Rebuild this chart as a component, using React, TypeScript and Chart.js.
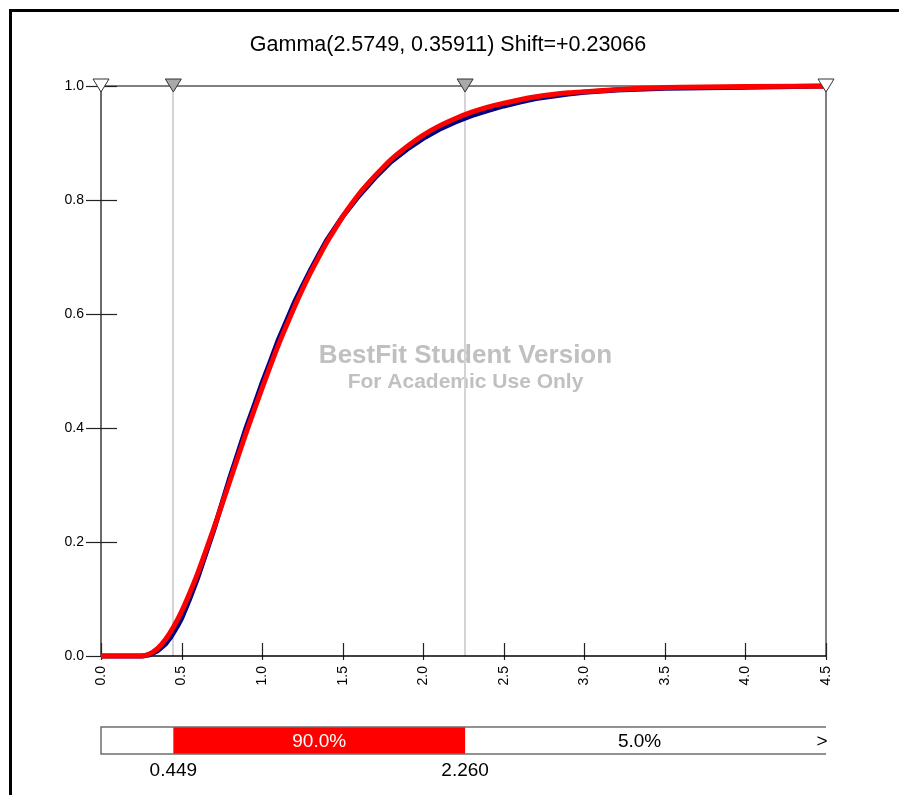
import React, { useEffect, useRef } from "react";
import { Chart, registerables } from "chart.js";

Chart.register(...registerables);

const TITLE = "Gamma(2.5749, 0.35911) Shift=+0.23066";
const WATERMARK_1 = "BestFit Student Version";
const WATERMARK_2 = "For Academic Use Only";

// fitted curve (red)
const FIT_X = [0, 0.23, 0.25, 0.3, 0.35, 0.4, 0.45, 0.5, 0.55, 0.6, 0.65, 0.7, 0.75, 0.8, 0.85, 0.9, 0.95, 1.0, 1.05, 1.1, 1.15, 1.2, 1.25, 1.3, 1.35, 1.4, 1.45, 1.5, 1.55, 1.6, 1.7, 1.8, 1.9, 2.0, 2.1, 2.2, 2.3, 2.4, 2.5, 2.6, 2.7, 2.8, 2.9, 3.0, 3.3, 3.6, 4.0, 4.5];
const FIT_Y = [0, 0, 0.0001, 0.0035, 0.013, 0.029, 0.051, 0.078, 0.11, 0.145, 0.184, 0.224, 0.265, 0.307, 0.349, 0.391, 0.431, 0.47, 0.508, 0.545, 0.579, 0.612, 0.643, 0.672, 0.699, 0.725, 0.748, 0.771, 0.791, 0.81, 0.842, 0.871, 0.894, 0.914, 0.93, 0.943, 0.954, 0.963, 0.97, 0.976, 0.981, 0.985, 0.988, 0.99, 0.995, 0.9976, 0.9991, 0.9997];

const EMP_X = [0, 0.26, 0.3, 0.33, 0.35, 0.38, 0.4, 0.43, 0.45, 0.48, 0.5, 0.55, 0.6, 0.65, 0.7, 0.75, 0.8, 0.85, 0.9, 0.95, 1.0, 1.05, 1.1, 1.15, 1.2, 1.25, 1.3, 1.35, 1.4, 1.45, 1.5, 1.55, 1.6, 1.7, 1.8, 1.9, 2.0, 2.1, 2.2, 2.3, 2.4, 2.5, 2.6, 2.7, 2.8, 2.9, 3.0, 3.2, 3.5, 4.0, 4.5];
const EMP_Y = [0, 0, 0.002, 0.006, 0.009, 0.016, 0.021, 0.032, 0.041, 0.055, 0.066, 0.1, 0.137, 0.179, 0.221, 0.267, 0.313, 0.356, 0.4, 0.439, 0.479, 0.516, 0.554, 0.587, 0.62, 0.649, 0.677, 0.703, 0.729, 0.75, 0.771, 0.789, 0.807, 0.839, 0.867, 0.889, 0.908, 0.924, 0.937, 0.948, 0.957, 0.965, 0.972, 0.978, 0.982, 0.986, 0.989, 0.993, 0.996, 0.998, 1.0];

const X_MIN = 0;
const X_MAX = 4.5;
const X_STEP = 0.5;
const Y_MIN = 0;
const Y_MAX = 1;
const Y_STEP = 0.2;

const MARKS = [0.449, 2.26];
const MARK_LABELS = ["0.449", "2.260"];
const BAND_TEXT = ["", "90.0%", "5.0%"];
const RIGHT_ARROW = ">";

const FONT = '"Liberation Sans", Arial, Helvetica, sans-serif';

const decorPlugin = {
  id: "decor",
  beforeDatasetsDraw(chart: any) {
    const { ctx, chartArea: a, scales } = chart;
    const xs = scales.x;
    const ys = scales.y;
    ctx.save();
    // outer frame
    ctx.fillStyle = "#000";
    ctx.fillRect(9, 9, 890, 3);
    ctx.fillRect(9, 9, 3, 786);

    // title
    ctx.fillStyle = "#000";
    ctx.font = `21.5px ${FONT}`;
    ctx.textAlign = "center";
    ctx.textBaseline = "middle";
    ctx.fillText(TITLE, 448, 45);

    // watermark
    const cx = (a.left + a.right) / 2 + 2;
    ctx.fillStyle = "#c0c0c0";
    ctx.font = `bold 26px ${FONT}`;
    ctx.fillText(WATERMARK_1, cx, 356);
    ctx.font = `bold 21px ${FONT}`;
    ctx.fillText(WATERMARK_2, cx, 382);

    // light vertical lines at marks
    ctx.strokeStyle = "#d4d4d4";
    ctx.lineWidth = 2;
    MARKS.forEach((m) => {
      const px = Math.round(xs.getPixelForValue(m));
      ctx.beginPath();
      ctx.moveTo(px, a.top);
      ctx.lineTo(px, a.bottom);
      ctx.stroke();
    });

    // frame lines of the plot
    ctx.strokeStyle = "#808080";
    ctx.lineWidth = 2;
    ctx.beginPath();
    ctx.moveTo(a.left, a.top);
    ctx.lineTo(a.right, a.top);
    ctx.moveTo(a.right, a.top);
    ctx.lineTo(a.right, a.bottom);
    ctx.stroke();
    ctx.strokeStyle = "#6a6a6a";
    ctx.beginPath();
    ctx.moveTo(a.left, a.top);
    ctx.lineTo(a.left, a.bottom);
    ctx.stroke();

    // y tick marks
    ctx.strokeStyle = "#222";
    ctx.lineWidth = 1.2;
    for (let v = Y_MIN; v <= Y_MAX + 1e-9; v += Y_STEP) {
      const py = Math.round(ys.getPixelForValue(v)) + 0.5;
      ctx.beginPath();
      ctx.moveTo(a.left - 15, py);
      ctx.lineTo(a.left + 16, py);
      ctx.stroke();
    }
    // x tick marks
    for (let v = X_MIN; v <= X_MAX + 1e-9; v += X_STEP) {
      const px = Math.round(xs.getPixelForValue(v)) + 0.5;
      ctx.beginPath();
      ctx.moveTo(px, a.bottom - 13);
      ctx.lineTo(px, a.bottom + 4);
      ctx.stroke();
    }
    // bottom axis
    ctx.strokeStyle = "#000";
    ctx.lineWidth = 1.5;
    ctx.beginPath();
    ctx.moveTo(a.left, a.bottom);
    ctx.lineTo(a.right, a.bottom);
    ctx.stroke();
    ctx.restore();
  },
  afterDatasetsDraw(chart: any) {
    const { ctx, chartArea: a, scales } = chart;
    const xs = scales.x;
    ctx.save();
    // triangles
    const tri = (px: number, fill: string) => {
      ctx.beginPath();
      ctx.moveTo(px - 8, a.top - 7);
      ctx.lineTo(px + 8, a.top - 7);
      ctx.lineTo(px, a.top + 6);
      ctx.closePath();
      ctx.fillStyle = fill;
      ctx.fill();
      ctx.strokeStyle = "#333";
      ctx.lineWidth = 1;
      ctx.stroke();
    };
    tri(xs.getPixelForValue(X_MIN), "#ffffff");
    MARKS.forEach((m) => tri(xs.getPixelForValue(m), "#a9a9a9"));
    tri(xs.getPixelForValue(X_MAX), "#ffffff");

    // probability bar
    const by = 727;
    const bh = 27;
    const p1 = xs.getPixelForValue(MARKS[0]);
    const p2 = xs.getPixelForValue(MARKS[1]);
    ctx.fillStyle = "#ff0000";
    ctx.fillRect(p1, by, p2 - p1, bh);
    ctx.strokeStyle = "#6e6e6e";
    ctx.lineWidth = 1.5;
    ctx.beginPath();
    ctx.moveTo(a.right, by);
    ctx.lineTo(a.left, by);
    ctx.lineTo(a.left, by + bh);
    ctx.lineTo(a.right, by + bh);
    ctx.stroke();

    ctx.font = `19px ${FONT}`;
    ctx.textAlign = "center";
    ctx.textBaseline = "middle";
    const cy = by + bh / 2 + 1;
    if (BAND_TEXT[0]) {
      ctx.fillStyle = "#000";
      ctx.fillText(BAND_TEXT[0], (a.left + p1) / 2, cy);
    }
    ctx.fillStyle = "#ffffff";
    ctx.fillText(BAND_TEXT[1], (p1 + p2) / 2, cy);
    ctx.fillStyle = "#000";
    ctx.fillText(BAND_TEXT[2], (p2 + a.right - 12) / 2, cy);
    ctx.fillText(RIGHT_ARROW, a.right - 4, cy);

    ctx.fillText(MARK_LABELS[0], p1, 771);
    ctx.fillText(MARK_LABELS[1], p2, 771);
    ctx.restore();
  },
};

export default function App() {
  const ref = useRef<HTMLCanvasElement | null>(null);
  useEffect(() => {
    document.body.style.margin = "0";
    const canvas = ref.current;
    if (!canvas) return;
    const chart = new Chart(canvas, {
      type: "line",
      data: {
        datasets: [
          {
            label: "Fit",
            data: FIT_X.map((x, i) => ({ x, y: FIT_Y[i] })),
            borderColor: "#ff0000",
            borderWidth: 5,
            pointRadius: 0,
            cubicInterpolationMode: "monotone",
            clip: false as any,
            order: 0,
          },
          {
            label: "Data",
            data: EMP_X.map((x, i) => ({ x, y: EMP_Y[i] })),
            borderColor: "#000080",
            borderWidth: 5,
            pointRadius: 0,
            clip: false as any,
            order: 1,
          },
        ],
      },
      options: {
        animation: false,
        responsive: false,
        maintainAspectRatio: false,
        layout: { padding: { left: 61, right: 73, top: 86, bottom: 89 } },
        plugins: { legend: { display: false }, tooltip: { enabled: false }, title: { display: false } },
        scales: {
          x: {
            type: "linear",
            min: X_MIN,
            max: X_MAX,
            grid: { display: false, drawTicks: false },
            border: { display: false },
            ticks: {
              stepSize: X_STEP,
              minRotation: 90,
              maxRotation: 90,
              padding: 10,
              color: "#000",
              font: { size: 14, family: FONT },
              callback: (v: any) => Number(v).toFixed(1),
            },
            afterFit: (s: any) => {
              s.height = 50;
            },
          },
          y: {
            type: "linear",
            min: Y_MIN,
            max: Y_MAX,
            grid: { display: false, drawTicks: false },
            border: { display: false },
            ticks: {
              stepSize: Y_STEP,
              padding: 17,
              color: "#000",
              font: { size: 14, family: FONT },
              callback: (v: any) => Number(v).toFixed(1),
            },
            afterFit: (s: any) => {
              s.width = 40;
            },
          },
        },
      },
      plugins: [decorPlugin],
    });
    return () => chart.destroy();
  }, []);
  return <canvas ref={ref} width={899} height={795} style={{ display: "block" }} />;
}
